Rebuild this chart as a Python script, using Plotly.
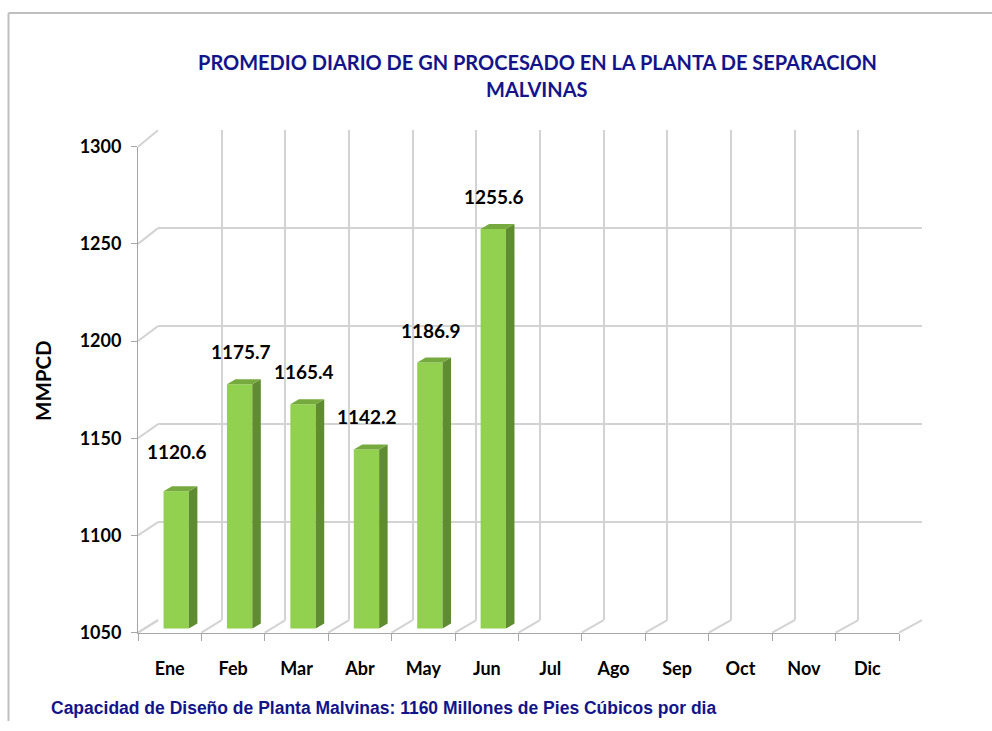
import plotly.graph_objects as go

# ---------------- data ----------------
months = ["Ene", "Feb", "Mar", "Abr", "May", "Jun", "Jul", "Ago", "Sep", "Oct", "Nov", "Dic"]
values = [1120.6, 1175.7, 1165.4, 1142.2, 1186.9, 1255.6]
y_ticks = [1050, 1100, 1150, 1200, 1250, 1300]
title_lines = ["PROMEDIO DIARIO DE GN PROCESADO EN LA PLANTA DE SEPARACION", "MALVINAS"]
y_title = "MMPCD"
note = "Capacidad de Diseño de Planta Malvinas: 1160 Millones de Pies Cúbicos por dia"

# ---------------- geometry (pixels of the target picture) ----------------
W, H = 992, 731
OUT_TOP, OUT_SCALE = 10.7, 0.971   # vertical mapping observed between page and picture
YMIN, YMAX = 1050, 1300
FRONT = dict(x0=138, x1=899, yb=632, yt=145.5)      # front plane (axes)
BACK = dict(x0=158, x1=922, yb=619.5, yt=129)       # back wall
BARP = dict(x0=144.5, x1=905.5, yb=628, yt=141.5)   # plane of bar front faces
SIDE_DX, SIDE_DY = 8.5, 5.0                          # px depth of bars
BAR_W = 0.40
LABEL_SHIFT = 31.5 / OUT_SCALE
LABEL_SHIFT_FIRST = 39.0 / OUT_SCALE

GREEN_FRONT = "#92D050"
GREEN_SIDE = "#5F8B31"
GREEN_TOP = "#76AA3E"
GRID = "#D3D3D3"
AXIS = "#A6A6A6"
NAVY = "#14148A"
FONT = "Lato"


def px(x):
    return x / W


def py(y):
    page = (y - OUT_TOP) / OUT_SCALE
    return 1 - page / H


def dom_x(p):
    return [px(p["x0"]), px(p["x1"])]


def dom_y(p):
    return [py(p["yb"]), py(p["yt"])]


n = len(months)
fig = go.Figure()

# invisible traces to anchor front and back axes
fig.add_trace(go.Scatter(x=[0], y=[YMIN], mode="markers", marker=dict(opacity=0),
                         xaxis="x", yaxis="y", hoverinfo="skip", showlegend=False))
fig.add_trace(go.Scatter(x=[0], y=[YMIN], mode="markers", marker=dict(opacity=0),
                         xaxis="x2", yaxis="y2", hoverinfo="skip", showlegend=False))

# bars (front faces)
idx = list(range(len(values)))
fig.add_trace(go.Bar(x=idx, y=values, width=BAR_W, marker=dict(color=GREEN_FRONT, line=dict(width=0)),
                     xaxis="x3", yaxis="y3", hoverinfo="skip", showlegend=False))

# 3D side/top faces computed from the data in bar-plane units
cat_px = (BARP["x1"] - BARP["x0"]) / n
val_px = (BARP["yb"] - BARP["yt"]) / (YMAX - YMIN)
dxu = SIDE_DX / cat_px
dyu = SIDE_DY / val_px
sx, sy, tx, ty = [], [], [], []
for i, v in zip(idx, values):
    xl, xr = i - BAR_W / 2, i + BAR_W / 2
    sx += [xr, xr + dxu, xr + dxu, xr, xr, None]
    sy += [YMIN, YMIN + dyu, v + dyu, v, YMIN, None]
    tx += [xl, xr, xr + dxu, xl + dxu, xl, None]
    ty += [v, v, v + dyu, v + dyu, v, None]
fig.add_trace(go.Scatter(x=sx, y=sy, mode="lines", fill="toself", fillcolor=GREEN_SIDE,
                         line=dict(width=0, color=GREEN_SIDE), xaxis="x3", yaxis="y3",
                         hoverinfo="skip", showlegend=False))
fig.add_trace(go.Scatter(x=tx, y=ty, mode="lines", fill="toself", fillcolor=GREEN_TOP,
                         line=dict(width=0, color=GREEN_TOP), xaxis="x3", yaxis="y3",
                         hoverinfo="skip", showlegend=False))

boundaries = [k - 0.5 for k in range(n + 1)]
tickfont = dict(family=FONT, size=18, color="#000000", weight="bold")

fig.update_layout(
    width=W, height=H, autosize=False,
    margin=dict(l=0, r=0, t=0, b=0, pad=0),
    paper_bgcolor="white", plot_bgcolor="rgba(0,0,0,0)",
    showlegend=False,
    xaxis=dict(domain=dom_x(FRONT), range=[-0.5, n - 0.5], anchor="y",
               tickmode="array", tickvals=list(range(n)), ticktext=months, ticks="",
               tickfont=dict(family=FONT, size=18, color="#000000", weight="bold"),
               ticklabelstandoff=20,
               showgrid=False, zeroline=False, showline=True, linecolor=AXIS, linewidth=1,
               minor=dict(tickmode="array", tickvals=boundaries, ticks="outside", ticklen=7,
                          tickcolor=AXIS, tickwidth=1, showgrid=False),
               fixedrange=True),
    yaxis=dict(domain=dom_y(FRONT), range=[YMIN, YMAX], anchor="x",
               tickmode="array", tickvals=y_ticks, ticks="outside", ticklen=6, tickcolor=AXIS,
               tickfont=tickfont, ticklabelstandoff=6,
               showgrid=False, zeroline=False, showline=True, linecolor=AXIS, linewidth=1,
               fixedrange=True),
    xaxis2=dict(domain=dom_x(BACK), range=[-0.5, n - 0.5], anchor="y2",
                tickmode="array", tickvals=boundaries, showticklabels=False, ticks="",
                showgrid=True, gridcolor=GRID, gridwidth=2, zeroline=False, showline=False,
                fixedrange=True),
    yaxis2=dict(domain=dom_y(BACK), range=[YMIN, YMAX], anchor="x2",
                tickmode="array", tickvals=y_ticks, showticklabels=False, ticks="",
                showgrid=True, gridcolor=GRID, gridwidth=2, zeroline=False, showline=False,
                fixedrange=True),
    xaxis3=dict(domain=dom_x(BARP), range=[-0.5, n - 0.5], anchor="y3", visible=False,
                fixedrange=True),
    yaxis3=dict(domain=dom_y(BARP), range=[YMIN, YMAX], anchor="x3", visible=False,
                fixedrange=True),
)

# perspective lines: left wall and floor
shapes = []
fy_px = (FRONT["yb"] - FRONT["yt"]) / (YMAX - YMIN)
by_px = (BACK["yb"] - BACK["yt"]) / (YMAX - YMIN)
for v in y_ticks:
    yf = FRONT["yb"] - (v - YMIN) * fy_px
    yb = BACK["yb"] - (v - YMIN) * by_px
    shapes.append(dict(type="line", xref="paper", yref="paper", x0=px(FRONT["x0"]), y0=py(yf),
                       x1=px(BACK["x0"]), y1=py(yb), line=dict(color=GRID, width=2), layer="below"))
fcat = (FRONT["x1"] - FRONT["x0"]) / n
bcat = (BACK["x1"] - BACK["x0"]) / n
for k in range(n + 1):
    shapes.append(dict(type="line", xref="paper", yref="paper",
                       x0=px(FRONT["x0"] + k * fcat), y0=py(FRONT["yb"]),
                       x1=px(BACK["x0"] + k * bcat), y1=py(BACK["yb"]),
                       line=dict(color=GRID, width=2), layer="below"))
# outer frame (top and left edges)
shapes.append(dict(type="line", xref="paper", yref="paper", x0=px(8.5), y0=py(11.8),
                   x1=1, y1=py(11.8), line=dict(color="#BFBFBF", width=2), layer="below"))
shapes.append(dict(type="line", xref="paper", yref="paper", x0=px(8.5), y0=py(11.8),
                   x1=px(8.5), y1=0, line=dict(color="#BFBFBF", width=2), layer="below"))
fig.update_layout(shapes=shapes)

# annotations
ann = []
for i, v in zip(idx, values):
    ann.append(dict(x=i, y=v, xref="x3", yref="y3", text=f"{v:.1f}", showarrow=False,
                    yanchor="middle", yshift=LABEL_SHIFT_FIRST if i == 0 else LABEL_SHIFT,
                    xshift=1,
                    font=dict(family=FONT, size=19, color="#000000", weight="bold")))
ann.append(dict(x=px(537), y=py(61), xref="paper", yref="paper", text=title_lines[0],
                showarrow=False, xanchor="center", yanchor="middle",
                font=dict(family=FONT, size=20, color=NAVY, weight="bold")))
ann.append(dict(x=px(537), y=py(88), xref="paper", yref="paper", text=title_lines[1],
                showarrow=False, xanchor="center", yanchor="middle",
                font=dict(family=FONT, size=20, color=NAVY, weight="bold")))
ann.append(dict(x=px(43), y=py(380), xref="paper", yref="paper", text=y_title, textangle=-90,
                showarrow=False, xanchor="center", yanchor="middle",
                font=dict(family=FONT, size=20.5, color="#000000", weight="bold")))
ann.append(dict(x=px(49), y=py(707), xref="paper", yref="paper", text=note,
                showarrow=False, xanchor="left", yanchor="middle",
                font=dict(family="Liberation Sans", size=17.5, color=NAVY, weight="bold")))
fig.update_layout(annotations=ann)

fig.write_html(
    "out.html",
    config={"displayModeBar": False},
    post_script=(
        "document.documentElement.style.margin='0';"
        "document.documentElement.style.overflow='hidden';"
        "document.body.style.margin='0';"
        "document.body.style.overflow='hidden';"
    ),
)
